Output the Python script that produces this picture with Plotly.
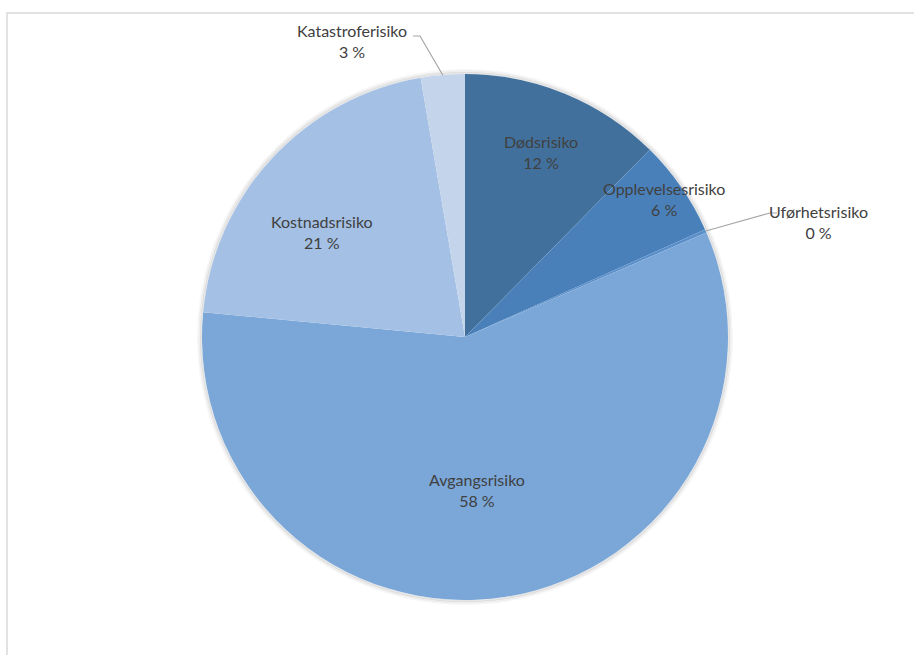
import math
import plotly.graph_objects as go

# ---- data ----
labels = ["Dødsrisiko", "Opplevelsesrisiko", "Uførhetsrisiko", "Avgangsrisiko", "Kostnadsrisiko", "Katastroferisiko"]
values = [12.4, 5.9, 0.2, 58.0, 20.8, 2.7]
colors = ["#41709C", "#4A80BA", "#5B8FC9", "#7AA7D8", "#A4C0E4", "#C4D4EA"]

# ---- layout/style (pixels) ----
W, H = 914, 655
CX, CY, R = 465, 337, 263
# (radial factor, angular offset in degrees) for labels drawn inside slices
inside_place = {"Dødsrisiko": (0.76, 0), "Opplevelsesrisiko": (0.92, 0),
                "Avgangsrisiko": (0.584, 4.5), "Kostnadsrisiko": (0.675, -6.4)}
outside_pos = {"Uførhetsrisiko": (818, 222, 770, 213, 777), "Katastroferisiko": (352, 41, 420, 36, 413)}
FONT = dict(family="Lato, Calibri, Carlito, sans-serif", size=16, color="#404040")


def px(x):
    return x / W


def py(y):
    return 1 - y / H


fig = go.Figure()
fig.add_trace(go.Pie(
    labels=labels, values=values, sort=False, direction="clockwise", rotation=0,
    marker=dict(colors=colors, line=dict(width=0)),
    textinfo="none", hoverinfo="label+percent", showlegend=False,
    domain=dict(x=[px(CX - R), px(CX + R)], y=[py(CY + R), py(CY - R)]),
))

total = sum(values)
cum = 0
annotations = []
shapes = []
for lab, v in zip(labels, values):
    mid = (cum + v / 2) / total
    cum += v
    th = 2 * math.pi * mid
    text = f"{lab}<br>{round(v / total * 100)} %"
    if lab in inside_place:
        f, off = inside_place[lab]
        a = th + math.radians(off)
        x = CX + R * f * math.sin(a)
        y = CY - R * f * math.cos(a)
    else:
        lx, ly, ex, ey, hx = outside_pos[lab]
        x, y = lx, ly
        sx = CX + R * math.sin(th)
        sy = CY - R * math.cos(th)
        path = f"M {px(sx)},{py(sy)} L {px(ex)},{py(ey)} L {px(hx)},{py(ey)}"
        shapes.append(dict(type="path", path=path, xref="paper", yref="paper",
                           line=dict(color="#A6A6A6", width=1.2)))
    annotations.append(dict(x=px(x), y=py(y), xref="paper", yref="paper", text=text,
                            xanchor="center", yanchor="middle",
                            showarrow=False, font=FONT, align="center"))

# soft shadow around pie
for i, op in enumerate([0.10, 0.06, 0.03]):
    rr = R + 1 + i * 1.5
    shapes.append(dict(type="circle", xref="paper", yref="paper", layer="below",
                       x0=px(CX - rr), x1=px(CX + rr), y0=py(CY + rr), y1=py(CY - rr),
                       line=dict(color=f"rgba(0,0,0,{op})", width=2)))

# chart border
shapes.append(dict(type="rect", xref="paper", yref="paper", x0=px(7), x1=1.2, y0=-0.2, y1=py(13),
                   line=dict(color="#D9D9D9", width=1.5), layer="below"))

fig.update_layout(
    width=W, height=H, margin=dict(l=0, r=0, t=0, b=0),
    paper_bgcolor="white", plot_bgcolor="white",
    annotations=annotations, shapes=shapes, font=FONT,
)
fig.write_html("out.html", config={"displayModeBar": False},
               post_script="document.body.style.margin='0';document.body.style.overflow='hidden';")
